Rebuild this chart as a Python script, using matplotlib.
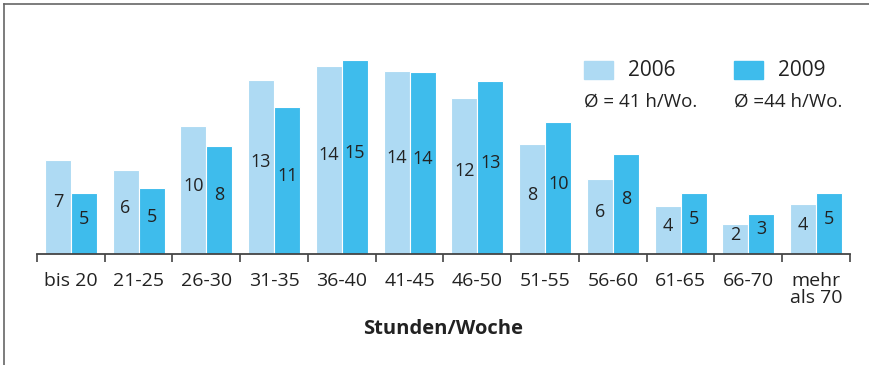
import matplotlib
matplotlib.use("Agg")
import matplotlib.pyplot as plt
import numpy as np
from matplotlib.lines import Line2D
from matplotlib.patches import Rectangle

categories = ["bis 20", "21-25", "26-30", "31-35", "36-40", "41-45",
              "46-50", "51-55", "56-60", "61-65", "66-70", "mehr\nals 70"]
# bar heights (percent)
values_2006 = [7.3, 6.5, 9.9, 13.5, 14.6, 14.2, 12.1, 8.5, 5.8, 3.7, 2.3, 3.85]
values_2009 = [4.7, 5.1, 8.4, 11.4, 15.0, 14.1, 13.4, 10.2, 7.75, 4.7, 3.1, 4.7]
# printed labels
labels_2006 = [7, 6, 10, 13, 14, 14, 12, 8, 6, 4, 2, 4]
labels_2009 = [5, 5, 8, 11, 15, 14, 13, 10, 8, 5, 3, 5]
legend_years = ["2006", "2009"]
legend_means = ["Ø = 41 h/Wo.", "Ø =44 h/Wo."]

c_light = "#aedaf3"
c_dark = "#3ebcec"
txt = "#222222"
font = "Open Sans"

W, H = 870, 365
fig = plt.figure(figsize=(W / 100, H / 100), dpi=100)

# axes in pixel geometry: baseline at y=254, left 37, right 850
ax_l, ax_r, ax_b, ax_t = 37, 850, 254, 10
ax = fig.add_axes([ax_l / W, 1 - ax_b / H, (ax_r - ax_l) / W, (ax_b - ax_t) / H])
ax.set_xlim(-0.5, len(categories) - 0.5)
ax.set_ylim(0, (ax_b - ax_t) / 12.9)

x = np.arange(len(categories))
bw = 0.385
ax.bar(x - bw / 2, values_2006, bw, color=c_light, edgecolor="white", linewidth=0.8)
ax.bar(x + bw / 2, values_2009, bw, color=c_dark, edgecolor="white", linewidth=0.8)

for xi, v, lab in zip(x, values_2006, labels_2006):
    ax.text(xi - bw / 2, v / 2 + 0.35, str(lab), ha="center", va="center",
            fontsize=13, color=txt, family=font)
for xi, v, lab in zip(x, values_2009, labels_2009):
    ax.text(xi + bw / 2, v / 2 + 0.35, str(lab), ha="center", va="center",
            fontsize=13, color=txt, family=font)

for s in ["top", "right", "left"]:
    ax.spines[s].set_visible(False)
ax.spines["bottom"].set_color("#444444")
ax.spines["bottom"].set_linewidth(1.3)
ax.set_yticks([])
ax.set_xticks(x)
ax.set_xticklabels(categories, fontsize=14, color=txt, family=font,
                   linespacing=0.9, va="top")
ax.tick_params(axis="x", which="major", length=0, pad=13)
ax.set_xticks(np.arange(-0.5, len(categories)), minor=True)
ax.tick_params(axis="x", which="minor", length=6, width=1.2, color="#444444")
ax.set_xlabel("Stunden/Woche", fontsize=14.5, fontweight="bold", color=txt,
              family=font, labelpad=9)

# legend
for i, (yr, mean, col) in enumerate(zip(legend_years, legend_means, [c_light, c_dark])):
    x0 = 584 + i * 150
    fig.patches.append(Rectangle((x0 / W, 1 - 79 / H), 29 / W, 18 / H,
                                 transform=fig.transFigure, color=col))
    fig.text((x0 + 44) / W, 1 - 71 / H, yr, fontsize=15, color=txt,
             family=font, va="center")
    fig.text(x0 / W, 1 - 102 / H, mean, fontsize=13.5, color=txt,
             family=font, va="center")

# frame lines (top and left)
fig.add_artist(Line2D([4 / W, 1], [1 - 4 / H, 1 - 4 / H], color="#666666", lw=1.2))
fig.add_artist(Line2D([4 / W, 4 / W], [0, 1 - 4 / H], color="#666666", lw=1.2))

fig.savefig("out.png", dpi=100)
